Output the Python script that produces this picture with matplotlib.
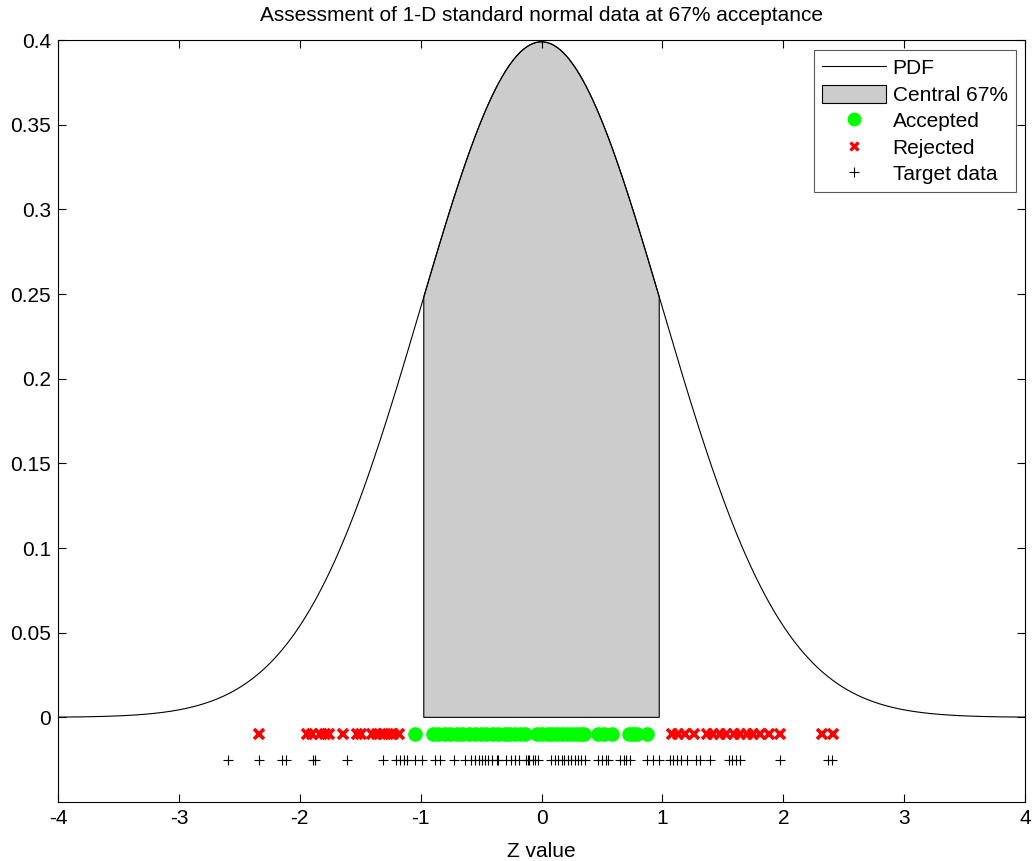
import numpy as np
import matplotlib
matplotlib.use("Agg")
import matplotlib.pyplot as plt
from matplotlib.patches import Patch
from matplotlib.lines import Line2D

plt.rcParams['font.family'] = ['Liberation Sans', 'DejaVu Sans']

# ---- data ----
accept_frac = 0.67
z_crit = 0.974  # central 67% bound

accepted = [-1.05, -0.90, -0.86, -0.80, -0.76, -0.70, -0.66, -0.60, -0.55, -0.50,
            -0.46, -0.40, -0.36, -0.30, -0.27, -0.22, -0.18, -0.14, -0.04, 0.00,
            0.05, 0.09, 0.13, 0.17, 0.21, 0.25, 0.29, 0.33, 0.35, 0.47, 0.52,
            0.58, 0.72, 0.76, 0.79, 0.87]
rejected = [-2.34, -1.94, -1.90, -1.83, -1.79, -1.76, -1.64, -1.53, -1.49, -1.40,
            -1.36, -1.31, -1.27, -1.23, -1.18, 1.08, 1.13, 1.19, 1.26, 1.37, 1.42,
            1.48, 1.53, 1.59, 1.64, 1.70, 1.75, 1.81, 1.88, 1.97, 2.32, 2.41]
target = [-2.59, -2.34, -2.15, -2.11, -1.89, -1.87, -1.61, -1.31, -1.20, -1.17,
          -1.14, -1.11, -1.05, -0.99, -0.88, -0.84, -0.72, -0.63, -0.58, -0.55,
          -0.52, -0.49, -0.47, -0.44, -0.41, -0.37, -0.36, -0.29, -0.25, -0.22,
          -0.19, -0.13, -0.11, -0.10, -0.07, -0.05, -0.03, 0.08, 0.11, 0.14,
          0.17, 0.19, 0.22, 0.24, 0.28, 0.30, 0.33, 0.36, 0.47, 0.50, 0.53, 0.55,
          0.65, 0.68, 0.70, 0.73, 0.87, 0.92, 0.97, 1.06, 1.09, 1.12, 1.15, 1.20,
          1.28, 1.31, 1.39, 1.55, 1.58, 1.61, 1.64, 1.97, 2.37, 2.40]
y_marks = -0.01
y_target = -0.025

xticks = [-4, -3, -2, -1, 0, 1, 2, 3, 4]
yticks = [0, 0.05, 0.1, 0.15, 0.2, 0.25, 0.3, 0.35, 0.4]
ytick_labels = ['0', '0.05', '0.1', '0.15', '0.2', '0.25', '0.3', '0.35', '0.4']

FS = 15

# ---- plot ----
fig = plt.figure(figsize=(10.34, 8.61), dpi=100)
ax = fig.add_axes([0.0561, 0.0685, 0.9352, 0.885])

x = np.linspace(-4, 4, 801)
pdf = np.exp(-x**2 / 2) / np.sqrt(2 * np.pi)

xs = np.linspace(-z_crit, z_crit, 300)
ps = np.exp(-xs**2 / 2) / np.sqrt(2 * np.pi)
poly_x = np.concatenate([[-z_crit], xs, [z_crit]])
poly_y = np.concatenate([[0], ps, [0]])
ax.fill(poly_x, poly_y, facecolor=(0.8, 0.8, 0.8), edgecolor='black', linewidth=0.8)
ax.plot(x, pdf, color='black', linewidth=0.8)

ax.plot(accepted, [y_marks] * len(accepted), linestyle='none', marker='o',
        markersize=9.5, markerfacecolor=(0, 1, 0), markeredgecolor=(0, 1, 0))
ax.plot(rejected, [y_marks] * len(rejected), linestyle='none', marker='x',
        markersize=7, markeredgewidth=2.6, color=(1, 0, 0))
ax.plot(target, [y_target] * len(target), linestyle='none', marker='+',
        markersize=7, markeredgewidth=0.8, color='black')

ax.set_xlim(-4, 4)
ax.set_ylim(-0.05, 0.4)
ax.set_xticks(xticks)
ax.set_xticklabels([str(t) for t in xticks])
ax.set_yticks(yticks)
ax.set_yticklabels(ytick_labels)
ax.tick_params(direction='in', top=True, right=True, labelsize=FS, length=6, width=0.8, pad=5)
for s in ax.spines.values():
    s.set_linewidth(0.8)

ax.set_title('Assessment of 1-D standard normal data at 67% acceptance', fontsize=FS, pad=14)
ax.set_xlabel('Z value', fontsize=FS, labelpad=10)

handles = [
    Line2D([], [], color='black', linewidth=0.8),
    Patch(facecolor=(0.8, 0.8, 0.8), edgecolor='black', linewidth=0.8),
    Line2D([], [], linestyle='none', marker='o', markersize=9,
           markerfacecolor=(0, 1, 0), markeredgecolor=(0, 1, 0)),
    Line2D([], [], linestyle='none', marker='x', markersize=6, markeredgewidth=2.4, color=(1, 0, 0)),
    Line2D([], [], linestyle='none', marker='+', markersize=7, markeredgewidth=0.8, color='black'),
]
labels = ['PDF', 'Central 67%', 'Accepted', 'Rejected', 'Target data']
leg = ax.legend(handles, labels, loc='upper right', bbox_to_anchor=(0.9907, 0.9869),
                fontsize=FS, frameon=True, fancybox=False, edgecolor='0.35',
                framealpha=1, handlelength=3.1, handleheight=0.95, handletextpad=0.3,
                borderpad=0.4, labelspacing=0.3, borderaxespad=0)
leg.get_frame().set_linewidth(0.8)

fig.savefig('out.png', dpi=100)
